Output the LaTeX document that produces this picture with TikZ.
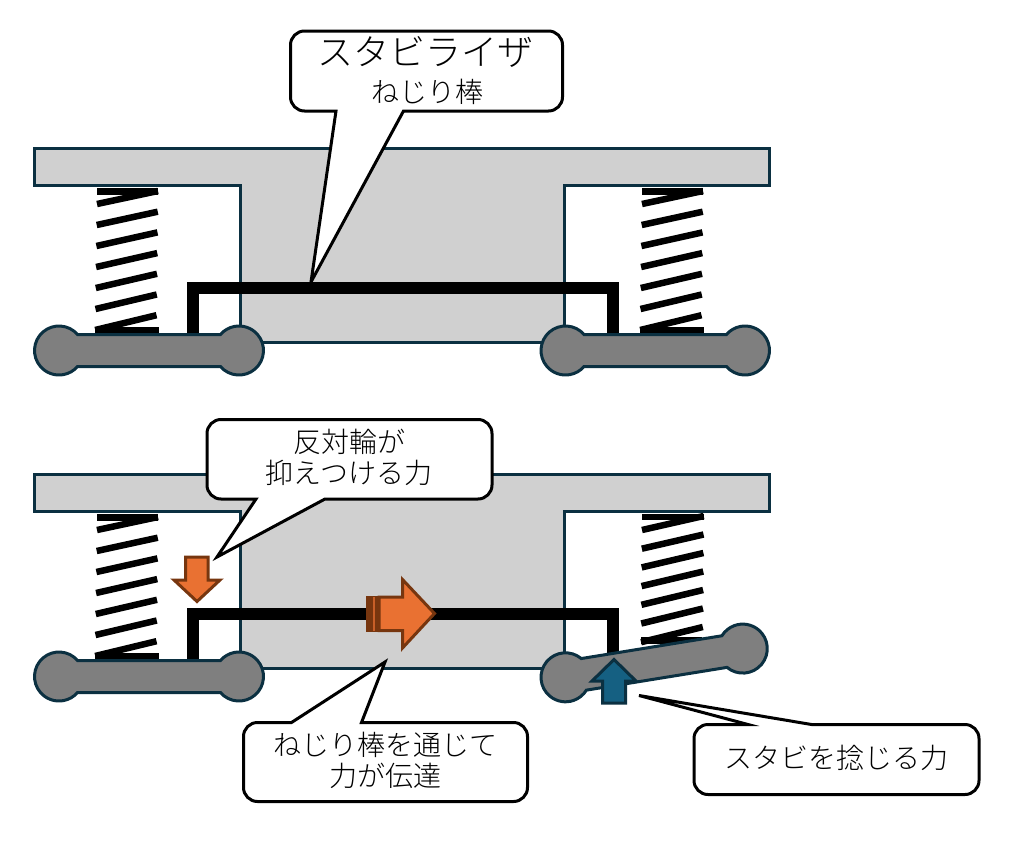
\documentclass[tikz,border=0pt]{standalone}
\usepackage{fontspec}
\setmainfont{Noto Sans CJK JP Light}
\definecolor{edgeblue}{HTML}{0B3041}
\definecolor{bodygray}{HTML}{D0D0D0}
\definecolor{armgray}{HTML}{7F7F7F}
\definecolor{forceorange}{HTML}{E97132}
\definecolor{forcebrown}{HTML}{77360F}
\definecolor{forceblue}{HTML}{156082}
\newcommand{\armshape}[3]{%
  \draw [arm, shift={(#1)}, rotate=#3] (18.55pt,16pt) arc [start angle=40.8, end angle=319.2, radius=24.5pt]
    -- ++(#2pt-37.1pt,0pt) arc [start angle=220.8, end angle=499.2, radius=24.5pt] -- cycle;}
\begin{document}
\begin{tikzpicture}[
    x=1pt, y=-1pt,
    body/.style={draw=edgeblue, fill=bodygray, line width=3pt},
    coil/.style={draw=black, line width=6.5pt},
    torsion/.style={draw=black, line width=12pt},
    arm/.style={draw=edgeblue, fill=armgray, line width=3pt},
    callout/.style={draw=black, fill=white, line width=3pt, line join=miter},
    label/.style={align=center, inner sep=0pt, font=\fontsize{28}{31}\selectfont},
    orangeforce/.style={draw=forcebrown, fill=forceorange, line width=3pt},
    blueforce/.style={draw=edgeblue, fill=forceblue, line width=3pt}
]
  \useasboundingbox (0,0) rectangle (1018,854);

  % Bodies
  \foreach \dy in {0,326} {
    \draw [body, shift={(0,\dy)}] (34,148) -- (769,148) -- (769,185) -- (564,185) -- (564,342)
      -- (240,342) -- (240,185) -- (34,185) -- cycle;
  }

  % Springs
  \foreach \dx/\dy in {0/0, 545/0, 0/326} {
    \begin{scope}[shift={(\dx,\dy)}]
      \draw [coil] (97,191.5) -- (158,191.5);
      \foreach \i in {0,...,6} {
        \draw [coil] ({97-0.3*\i},{204+21*\i}) -- ({158-0.25*\i},{191+20.7*\i});
      }
      \draw [coil] (95,330) -- (159,330);
    \end{scope}
  }
  \draw [coil] (642,517) -- (704,517);
  \foreach \i in {0,...,6} {
    \draw [coil] ({642-0.15*\i},{530+18.7*\i}) -- ({703.7-0.15*\i},{516+18.5*\i});
  }
  \draw [coil] (641,640.5) -- (702,640.5);

  % Torsion bars
  \draw [torsion] (193,340) -- (193,288) -- (613,288) -- (613,340);
  \draw [torsion] (193,666) -- (193,614) -- (613,614) -- (613,660);

  % Arms
  \armshape{59,350.5}{180}{0}
  \armshape{565.5,350.5}{179.5}{0}
  \armshape{59,676.5}{180}{0}
  \armshape{565.5,677.3}{179.6}{9.2}

  % Force arrows
  \draw [orangeforce] (185.5,557) -- (208,557) -- (208,580) -- (220,580) -- (197,601.5) -- (174,580) -- (185.5,580) -- cycle;
  \draw [orangeforce] (379,597) -- (402.5,597) -- (402.5,579.5) -- (434.5,613.5) -- (402.5,648) -- (402.5,630.5) -- (379,630.5) -- cycle;
  \draw [draw=forcebrown, fill=forcebrown, line width=1.5pt] (367,596.5) rectangle (379,631);
  \fill [forceorange!70!forcebrown] (373,597) rectangle (375,630.5);
  \draw [blueforce] (602.5,703) -- (602.5,681) -- (592,681) -- (614,659.5) -- (636,681) -- (625.5,681) -- (625.5,703) -- cycle;

  % Callouts
  \draw [callout, rounded corners=14pt] (336,111) -- (290.5,111) -- (290.5,31) -- (562.5,31) -- (562.5,111)
    [sharp corners] -- (403.5,111) -- (311,282) -- cycle;
  \draw [callout, rounded corners=14pt] (256,499) -- (207,499) -- (207,419.5) -- (492,419.5) -- (492,499)
    [sharp corners] -- (325,499) -- (217,557) -- cycle;
  \draw [callout, rounded corners=14pt] (291.5,722.5) -- (243.5,722.5) -- (243.5,801.5) -- (527.5,801.5) -- (527.5,722.5)
    [sharp corners] -- (361.5,722.5) -- (385,662) -- cycle;
  \draw [callout, rounded corners=14pt] (748,724.5) -- (694,724.5) -- (694,794.5) -- (979,794.5) -- (979,724.5)
    [sharp corners] -- (811.5,724.5) -- (639,695.5) -- cycle;

  % Labels
  \node (stabi) [label, font=\fontsize{36}{36}\selectfont] at (425.5,52) {スタビライザ};
  \node (torsionbar) [label] at (427,92) {ねじり棒};
  \node (counter) [label] at (349,457.5) {反対輪が\\抑えつける力};
  \node (transfer) [label] at (385.5,760) {ねじり棒を通じて\\力が伝達};
  \node (twist) [label] at (836,758) {スタビを捻じる力};
\end{tikzpicture}
\end{document}
